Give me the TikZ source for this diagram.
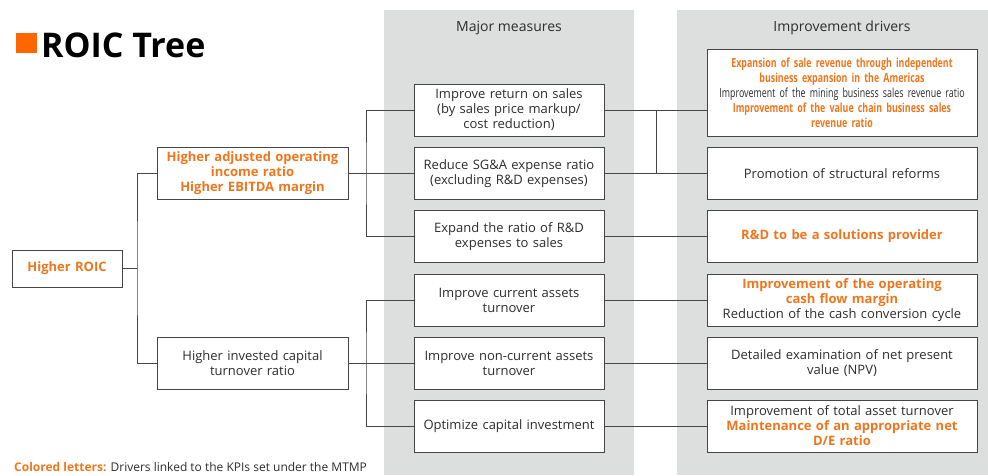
\documentclass[tikz,border=0pt]{standalone}
\usepackage{fontspec}
\setmainfont{Open Sans}
\newfontfamily\narrowfont[FakeStretch=0.71]{Open Sans}
\usetikzlibrary{calc}
\definecolor{KPI}{RGB}{240,118,30}
\definecolor{Sq}{RGB}{255,102,0}
\definecolor{Panel}{RGB}{221,222,222}
\definecolor{Ink}{RGB}{45,45,45}
\definecolor{Edge}{RGB}{70,70,70}
\newcommand{\kpi}[1]{{\color{KPI}\bfseries #1}}

\begin{document}
\begin{tikzpicture}[x=1pt, y=-1pt,
    box/.style={draw=Edge, line width=0.9pt, fill=white, text=Ink, align=center,
        minimum height=52pt, inner sep=1pt, font=\fontsize{13}{15}\selectfont},
    link/.style={draw=Edge, line width=0.9pt}]

    %% Frame
    \useasboundingbox (0,0) rectangle (988,475);

    %% --- Panels ---
    \fill[Panel] (384,10) rectangle (634,475);
    \fill[Panel] (677,10) rectangle (988,475);
    \node[text=Ink, font=\fontsize{14}{16}\selectfont] (hmajor) at (509,28) {Major measures};
    \node[text=Ink, font=\fontsize{14}{16}\selectfont] (hdriver) at (842,28) {Improvement drivers};

    %% --- Title ---
    \fill[Sq] (16,33) rectangle (37,53);
    \node[anchor=west, inner sep=0pt, font=\fontsize{34}{38}\selectfont\bfseries] (title) at (41,45) {ROIC Tree};

    %% --- Left tree ---
    \node[box, minimum height=37pt, text width=108pt] (roic) at (67,268.5) {\kpi{Higher ROIC}};
    \node[box, text width=189pt] (adj) at (252.5,173.5)
        {\kpi{Higher adjusted operating}\\\kpi{income ratio}\\\kpi{Higher EBITDA margin}};
    \node[box, text width=189pt] (inv) at (252.5,363) {Higher invested capital\\turnover ratio};

    %% --- Major measures ---
    \node[box, text width=188pt] (m1) at (509,110) {Improve return on sales\\(by sales price markup/\\cost reduction)};
    \node[box, text width=188pt] (m2) at (509,173.5) {Reduce SG\&A expense ratio\\(excluding R\&D expenses)};
    \node[box, text width=188pt] (m3) at (509,236.5) {Expand the ratio of R\&D\\expenses to sales};
    \node[box, text width=188pt] (m4) at (509,300) {Improve current assets\\turnover};
    \node[box, text width=188pt] (m5) at (509,363) {Improve non-current assets\\turnover};
    \node[box, text width=188pt] (m6) at (509,426) {Optimize capital investment};

    %% --- Improvement drivers ---
    \node[box, minimum height=87pt, text width=268pt, font=\fontsize{12.5}{15}\selectfont] (d1) at (842,92.5)
        {\narrowfont\kpi{Expansion of sale revenue through independent}\\
         \kpi{business expansion in the Americas}\\
         Improvement of the mining business sales revenue ratio\\
         \kpi{Improvement of the value chain business sales}\\
         \kpi{revenue ratio}};
    \node[box, text width=268pt] (d2) at (842,173.5) {Promotion of structural reforms};
    \node[box, text width=268pt] (d3) at (842,236.5) {\kpi{R\&D to be a solutions provider}};
    \node[box, text width=268pt] (d4) at (842,300)
        {\kpi{Improvement of the operating}\\\kpi{cash flow margin}\\Reduction of the cash conversion cycle};
    \node[box, text width=268pt] (d5) at (842,363) {Detailed examination of net present\\value (NPV)};
    \node[box, text width=268pt] (d6) at (842,426)
        {Improvement of total asset turnover\\\kpi{Maintenance of an appropriate net}\\\kpi{D/E ratio}};

    %% --- Junctions ---
    \coordinate (jroic) at (137,268.5);
    \coordinate (jadj) at (366,173.5);
    \coordinate (jinv) at (366,363);
    \coordinate (jm1) at (656,110);
    \coordinate (jm2) at (656,173.5);

    %% --- Connectors ---
    \draw[link] (roic.east) -- (jroic);
    \draw[link] (adj.west) -| (jroic) |- (inv.west);
    \draw[link] (adj.east) -- (m2.west);
    \draw[link] (m1.west) -| (jadj) |- (m3.west);
    \draw[link] (inv.east) -- (m5.west);
    \draw[link] (m4.west) -| (jinv) |- (m6.west);
    \draw[link] (m1.east) -- (m1.east -| d1.west);
    \draw[link] (m2.east) -- (d2.west);
    \draw[link] (jm1) -- (jm2);
    \draw[link] (m3.east) -- (d3.west);
    \draw[link] (m4.east) -- (d4.west);
    \draw[link] (m5.east) -- (d5.west);
    \draw[link] (m6.east) -- (d6.west);

    %% Note
    \node[anchor=west, inner sep=0pt, text=Ink, font=\fontsize{12}{14}\selectfont] (note) at (14,467)
        {\kpi{Colored letters:} Drivers linked to the KPIs set under the MTMP};

\end{tikzpicture}
\end{document}
